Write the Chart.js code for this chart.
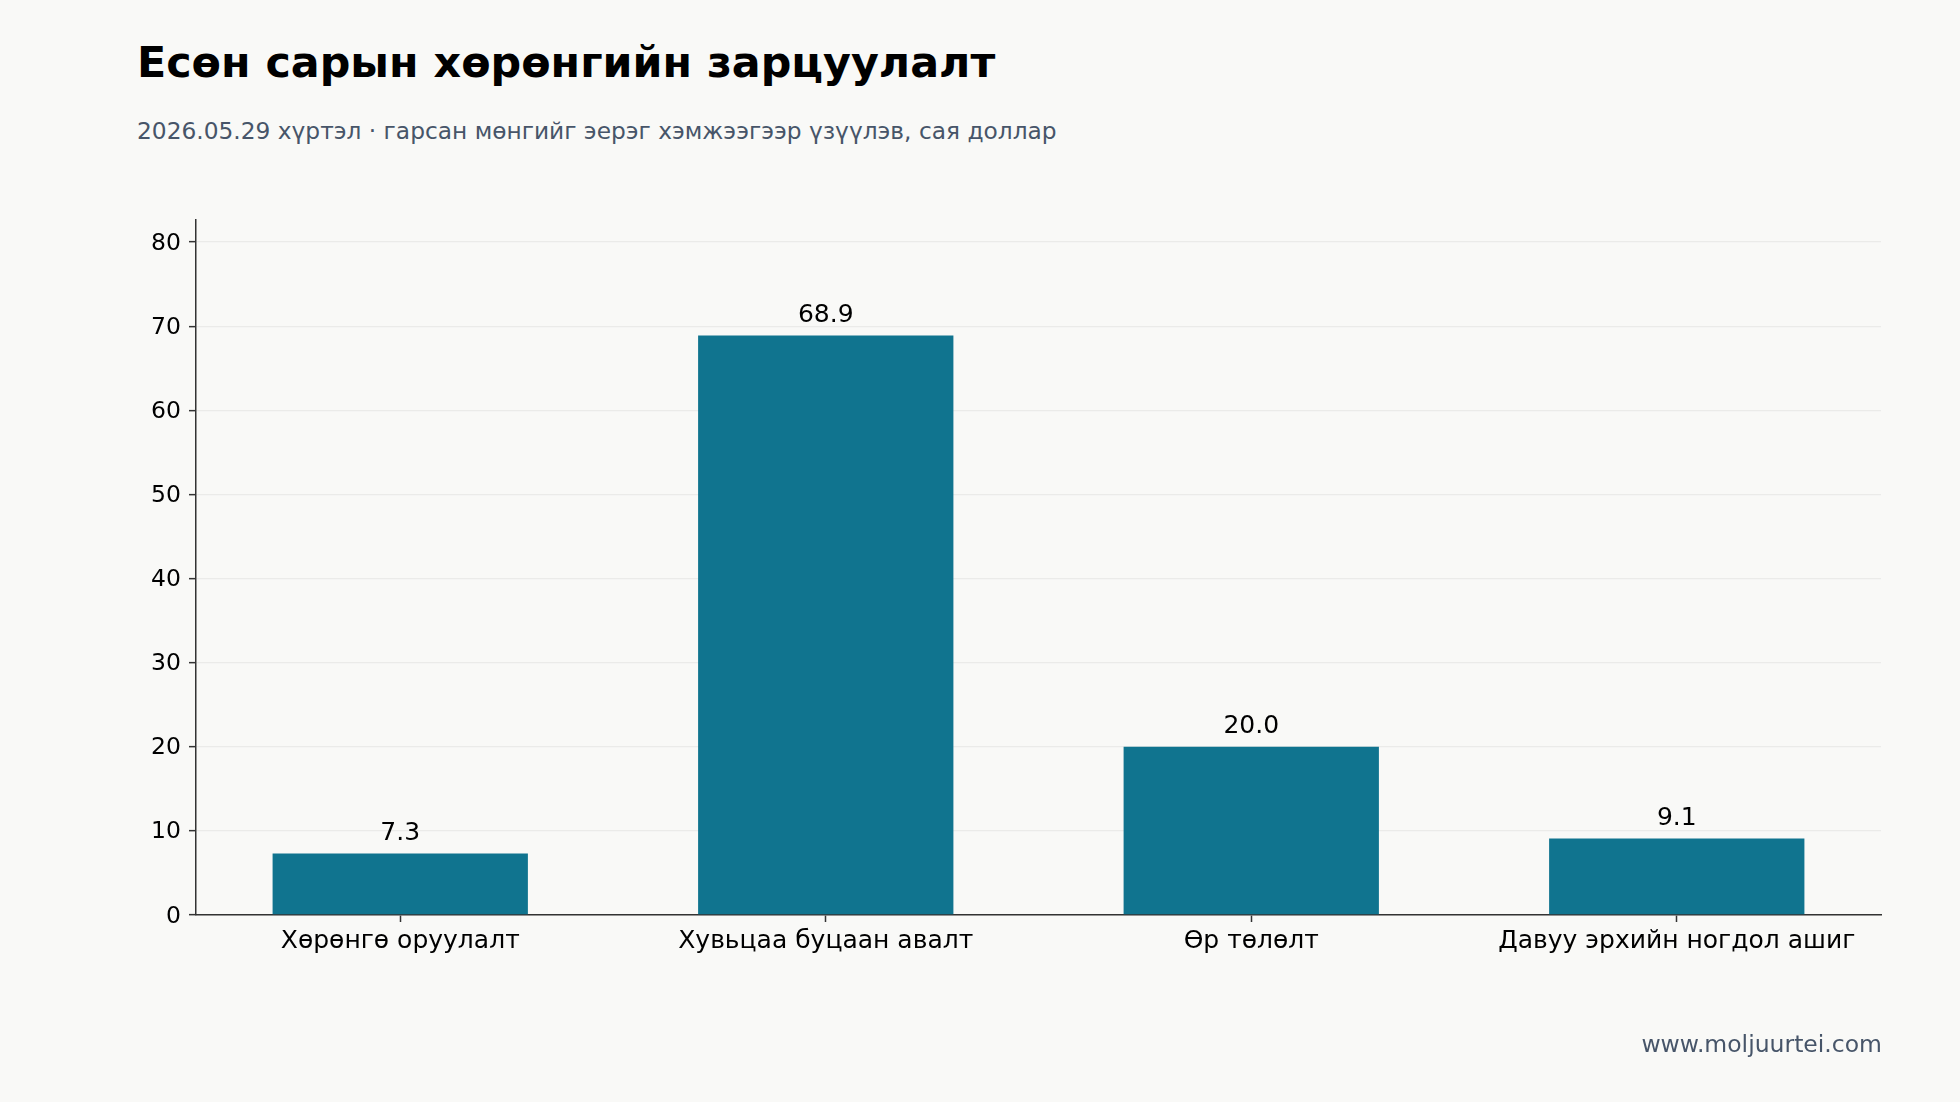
<!DOCTYPE html>
<html>
<head>
<meta charset="utf-8">
<script src="https://cdn.jsdelivr.net/npm/chart.js@4.4.1/dist/chart.umd.min.js"></script>
<style>
  html, body { margin: 0; padding: 0; background: #f9f9f7; }
  body { width: 1960px; height: 1102px; position: relative; overflow: hidden; font-family: "DejaVu Sans", sans-serif; }
  .txt { position: absolute; white-space: nowrap; line-height: 1; }
  #title { left: 137px; top: 40.8px; font-size: 42.8px; font-weight: bold; color: #000; }
  #subtitle { left: 137px; top: 119.3px; font-size: 23.3px; color: #475569; }
  #footer { right: 78px; top: 1032.8px; font-size: 23.5px; color: #475569; }
  #chart { position: absolute; left: 0; top: 0; }
</style>
</head>
<body>
<div class="txt" id="title">Есөн сарын хөрөнгийн зарцуулалт</div>
<div class="txt" id="subtitle">2026.05.29 хүртэл · гарсан мөнгийг эерэг хэмжээгээр үзүүлэв, сая доллар</div>
<canvas id="chart" width="1960" height="1102"></canvas>
<div class="txt" id="footer">www.moljuurtei.com</div>
<script>
var categories = ['Хөрөнгө оруулалт', 'Хувьцаа буцаан авалт', 'Өр төлөлт', 'Давуу эрхийн ногдол ашиг'];
var values = [7.3, 68.9, 20.0, 9.1];
var yTicks = [0, 10, 20, 30, 40, 50, 60, 70, 80];
var yMax = 82.68;

// value labels above each bar
var barLabels = {
  id: 'barLabels',
  afterDatasetsDraw: function(chart)
  {
    var ctx = chart.ctx;
    var meta = chart.getDatasetMeta(0);
    ctx.save();
    ctx.font = '25px "DejaVu Sans"';
    ctx.fillStyle = '#000';
    ctx.textAlign = 'center';
    ctx.textBaseline = 'alphabetic';
    meta.data.forEach(function(bar, i)
    {
      ctx.fillText(values[i].toFixed(1), bar.x, bar.y - 13.5);
    });
    ctx.restore();
  }
};

new Chart(document.getElementById('chart').getContext('2d'), {
  type: 'bar',
  data: {
    datasets: [{
      data: values.map(function(v, i) { return {x: i, y: v}; }),
      backgroundColor: '#10748f',
      borderWidth: 0,
      barPercentage: 0.6,
      categoryPercentage: 1.0
    }]
  },
  plugins: [barLabels],
  options: {
    responsive: false,
    devicePixelRatio: 1,
    animation: false,
    layout: { padding: { top: 219.5, right: 79, bottom: 0, left: 0 } },
    plugins: { legend: { display: false }, tooltip: { enabled: false } },
    scales: {
      x: {
        type: 'linear',
        min: -0.48,
        max: 3.48,
        offset: false,
        afterFit: function(scale) { scale.height = 187; },
        afterBuildTicks: function(scale) { scale.ticks = categories.map(function(c, i) { return {value: i}; }); },
        grid: { offset: false, drawOnChartArea: false, drawTicks: true, tickLength: 7, tickColor: '#333', tickWidth: 1.5 },
        border: { display: true, color: '#333', width: 1.5 },
        ticks: {
          autoSkip: false, maxRotation: 0, padding: 4, color: '#000',
          font: { family: 'DejaVu Sans', size: 25 },
          callback: function(v) { return categories[v] !== undefined ? categories[v] : ''; }
        }
      },
      y: {
        min: 0,
        max: yMax,
        afterFit: function(scale) { scale.width = 196; },
        afterBuildTicks: function(scale) { scale.ticks = yTicks.map(function(t) { return {value: t}; }); },
        grid: { color: '#ebebe9', lineWidth: 1.3, drawTicks: true, tickLength: 7, tickColor: '#333', tickWidth: 1.5 },
        border: { display: true, color: '#333', width: 1.5 },
        ticks: { padding: 8, labelOffset: 1.5, color: '#000', font: { family: 'DejaVu Sans', size: 23.5 } }
      }
    }
  }
});
</script>
</body>
</html>
